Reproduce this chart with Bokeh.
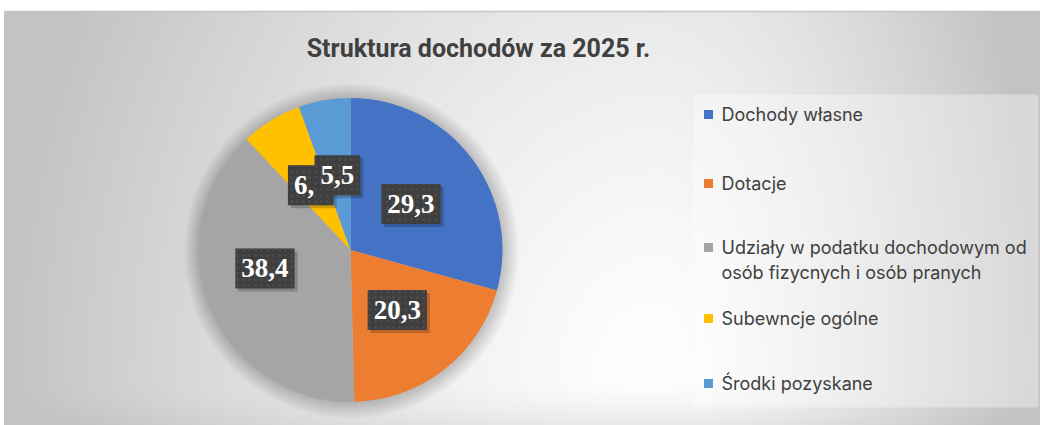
import numpy as np
from bokeh.plotting import figure
from bokeh.models import Range1d, ColumnDataSource
from bokeh.core.properties import value
from bokeh.embed import file_html
from bokeh.resources import INLINE

# ---------------- data ----------------
title = "Struktura dochodów za 2025 r."
categories = [
    "Dochody własne",
    "Dotacje",
    "Udziały w podatku dochodowym od\nosób fizycnych i osób pranych",
    "Subewncje ogólne",
    "Środki pozyskane",
]
values = [29.3, 20.3, 38.4, 6.5, 5.5]
labels = ["29,3", "20,3", "38,4", "6,5", "5,5"]
colors = ["#4472C4", "#ED7D31", "#A5A5A5", "#FFC000", "#5B9BD5"]

# ---------------- layout (screen px, y downward) ----------------
W, H = 1040, 425
CX, CY, R = 350, 249.5, 152
label_r = [0.5, 0.5, 0.58, 0.5, 0.5]
label_shift = [(0, 0), (0, 0), (-4, -15), (0, 0), (0, 0)]
legend_y = [114, 183, 247, 318, 383]
LEG_LINE = 25
TEXT = "#404040"

p = figure(width=W, height=H, x_range=Range1d(0, W), y_range=Range1d(-H, 0),
           output_backend="svg", toolbar_location=None, min_border=0,
           x_axis_location=None, y_axis_location=None)
p.grid.visible = False
p.outline_line_color = None
p.background_fill_color = "white"
p.border_fill_color = "white"

# background gradient
gx0, gx1, gy0, gy1 = 4, 1040, 11, 425
xs = np.arange(gx0, gx1) + 0.5
ys = np.arange(gy0, gy1) + 0.5
XX, YY = np.meshgrid(xs, ys)
cxg, cyg = 655, 380
u = np.where(XX < cxg, (XX - cxg) / (cxg - 4), (XX - cxg) / (1040 - cxg))
v = np.where(YY < cyg, (YY - cyg) / (cyg - 11), (YY - cyg) / (425 - cyg))
d = np.sqrt(u ** 2 + (0.45 * v) ** 2)
g = (255 - 60 * np.clip(d, 0, 1) ** 1.3).astype(np.uint8)[::-1]
img = np.empty(g.shape, dtype=np.uint32)
view = img.view(dtype=np.uint8).reshape(g.shape + (4,))
view[..., 0] = g
view[..., 1] = g
view[..., 2] = g
view[..., 3] = 255
p.image_rgba(image=[img], x=gx0, y=-gy1, dw=gx1 - gx0, dh=gy1 - gy0)
p.segment(x0=[gx0], y0=[-gy0], x1=[gx1], y1=[-gy0], line_color="#c4c4c4", line_width=1.5)
p.segment(x0=[gx0], y0=[-gy0], x1=[gx0], y1=[-gy1], line_color="#c4c4c4", line_width=1)

# pie shadow (soft halo)
for k in range(1, 17):
    p.circle(x=CX + 1, y=-(CY + 1), radius=R + k, fill_color="black", fill_alpha=0.011, line_color=None)

# wedges
vals = np.array(values, dtype=float)
frac = vals / vals.sum()
cum = np.concatenate([[0], np.cumsum(frac)])
start = np.pi / 2 - 2 * np.pi * cum[:-1]
end = np.pi / 2 - 2 * np.pi * cum[1:]
src = ColumnDataSource(dict(start=start, end=end, color=colors))
p.wedge(x=CX, y=-CY, radius=R, start_angle="start", end_angle="end", direction="clock",
        fill_color="color", line_color=None, source=src)

# data labels
mid = np.pi / 2 - 2 * np.pi * (cum[:-1] + cum[1:]) / 2
shift = np.array(label_shift, dtype=float)
lx = CX + np.array(label_r) * R * np.cos(mid) + shift[:, 0]
ly = -CY + np.array(label_r) * R * np.sin(mid) - shift[:, 1]
lsrc = ColumnDataSource(dict(x=lx, y=ly, text=labels))
font_kw = dict(text_font=value("Liberation Serif"), text_font_style="bold", text_font_size="27px",
               text_align="center", text_baseline="middle", padding=(6, 11))
p.text(x="x", y="y", text="text", source=lsrc, x_offset=3, y_offset=3, text_alpha=0,
       background_fill_color="black", background_fill_alpha=0.2, **font_kw)
p.text(x="x", y="y", text="text", source=lsrc, text_color="white",
       background_fill_color="#3f3f3f", background_hatch_pattern="dot",
       background_hatch_color="#4b4b4b", background_hatch_scale=6, **font_kw)

# title
p.text(x=[478], y=[-48], text=[title], text_font=value("Roboto"), text_font_style="bold",
       text_font_size="25px", text_color=TEXT, text_align="center", text_baseline="middle")

# legend
p.quad(left=[693], right=[1038], top=[-94], bottom=[-407], fill_color="white", fill_alpha=0.35, line_color=None)
p.scatter(x=[708] * len(categories), y=[-yy for yy in legend_y], marker="square", size=9,
          fill_color=colors, line_color=None)
tx, ty, tt = [], [], []
for cat, yy in zip(categories, legend_y):
    for i, line in enumerate(cat.split("\n")):
        tx.append(721)
        ty.append(-(yy + i * LEG_LINE))
        tt.append(line)
p.text(x=tx, y=ty, text=tt, text_font=value("Inter"), text_font_size="18px", text_color=TEXT,
       text_align="left", text_baseline="middle")

open("out.html", "w").write(file_html(p, INLINE))
